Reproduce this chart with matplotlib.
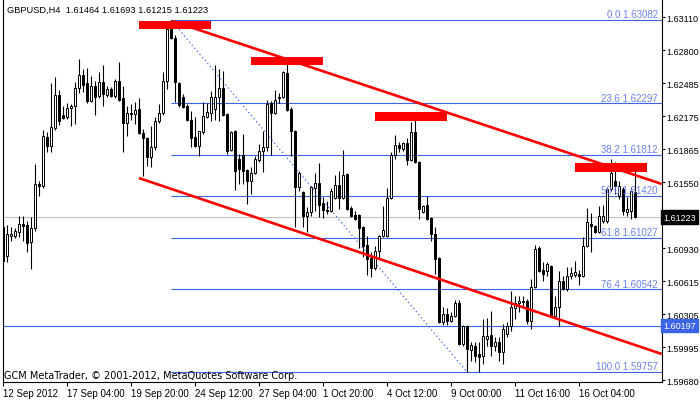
import matplotlib
matplotlib.use("Agg")
from matplotlib import pyplot as plt
from matplotlib.patches import Rectangle
import numpy as np

plt.rcParams["font.family"] = ["Liberation Sans", "DejaVu Sans"]

# GBPUSD H4 bars, 12 Sep - 17 Oct 2012
opens = [1.61129, 1.60855, 1.61044, 1.61044, 1.61082, 1.61158, 1.61148, 1.60988, 1.61120, 1.61536,
         1.61517, 1.61980, 1.61894, 1.62065, 1.62376, 1.62187, 1.62168, 1.62253, 1.62272, 1.62442,
         1.62565, 1.62490, 1.62320, 1.62461, 1.62367, 1.62499, 1.62376, 1.62433, 1.62367, 1.62508,
         1.62348, 1.62112, 1.62197, 1.62197, 1.62244, 1.62017, 1.61970, 1.61791, 1.61885, 1.62131,
         1.62206, 1.62508, 1.63000, 1.62915, 1.62490, 1.62357, 1.62272, 1.62140, 1.61980, 1.61894,
         1.62027, 1.62168, 1.62206, 1.62244, 1.62357, 1.62442, 1.62197, 1.61857, 1.62036, 1.61772,
         1.61809, 1.61668, 1.61564, 1.61639, 1.61762, 1.61847, 1.61885, 1.62301, 1.62206, 1.62348,
         1.62357, 1.62584, 1.62244, 1.62036, 1.61507, 1.61460, 1.61233, 1.61271, 1.61498, 1.61545,
         1.61356, 1.61290, 1.61280, 1.61403, 1.61526, 1.61403, 1.61630, 1.61309, 1.61243, 1.61243,
         1.61129, 1.60959, 1.60837, 1.60742, 1.60903, 1.61044, 1.61044, 1.61403, 1.61809, 1.61904,
         1.61866, 1.61923, 1.61762, 1.62027, 1.61743, 1.61271, 1.61337, 1.61214, 1.61063, 1.60837,
         1.60232, 1.60308, 1.60241, 1.60289, 1.60411, 1.60024, 1.60194, 1.59968, 1.60005, 1.59930,
         1.59911, 1.60071, 1.60109, 1.60005, 1.60043, 1.59949, 1.60119, 1.60194, 1.60364, 1.60411,
         1.60421, 1.60430, 1.60241, 1.60563, 1.60931, 1.60723, 1.60714, 1.60761, 1.60289, 1.60374,
         1.60619, 1.60544, 1.60667, 1.60676, 1.60685, 1.60667, 1.60950, 1.61158, 1.61139, 1.61082,
         1.61186, 1.61186, 1.61488, 1.61564, 1.61422, 1.61488, 1.61271, 1.61280, 1.61464]
highs = [1.61205, 1.61148, 1.61129, 1.61120, 1.61233, 1.61233, 1.61186, 1.61224, 1.61724, 1.61564,
         1.62046, 1.62027, 1.62490, 1.62546, 1.62423, 1.62272, 1.62301, 1.62291, 1.62499, 1.62716,
         1.62622, 1.62631, 1.62556, 1.62508, 1.62593, 1.62660, 1.62461, 1.62452, 1.62527, 1.62688,
         1.62461, 1.62272, 1.62291, 1.62310, 1.62348, 1.62055, 1.61980, 1.62083, 1.62168, 1.62291,
         1.62593, 1.63028, 1.63082, 1.62943, 1.62499, 1.62386, 1.62291, 1.62225, 1.62168, 1.62036,
         1.62310, 1.62301, 1.62414, 1.62660, 1.62622, 1.62603, 1.62206, 1.62036, 1.62046, 1.61819,
         1.62008, 1.61677, 1.61696, 1.61800, 1.61913, 1.62036, 1.62329, 1.62320, 1.62423, 1.62395,
         1.62603, 1.62697, 1.62263, 1.62046, 1.61658, 1.61469, 1.61318, 1.61517, 1.61639, 1.61734,
         1.61413, 1.61375, 1.61498, 1.61621, 1.61658, 1.61857, 1.61639, 1.61328, 1.61280, 1.61252,
         1.61139, 1.61044, 1.60893, 1.60950, 1.61054, 1.61328, 1.61498, 1.61838, 1.61998, 1.61932,
         1.61932, 1.61970, 1.62121, 1.62159, 1.61753, 1.61337, 1.61422, 1.61224, 1.61129, 1.60846,
         1.60374, 1.60364, 1.60326, 1.60440, 1.60440, 1.60204, 1.60204, 1.60043, 1.60043, 1.60043,
         1.60260, 1.60270, 1.60336, 1.60090, 1.60090, 1.60213, 1.60232, 1.60525, 1.60478, 1.60478,
         1.60478, 1.60449, 1.60638, 1.60959, 1.60950, 1.60799, 1.60799, 1.60770, 1.60478, 1.60714,
         1.60667, 1.60752, 1.60752, 1.60808, 1.60723, 1.61035, 1.61309, 1.61262, 1.61148, 1.61328,
         1.61337, 1.61507, 1.61772, 1.61743, 1.61564, 1.61507, 1.61413, 1.61507, 1.61693]
lows = [1.60799, 1.60799, 1.60997, 1.61025, 1.61035, 1.60997, 1.60893, 1.60733, 1.61092, 1.61422,
        1.61498, 1.61838, 1.61838, 1.62046, 1.62093, 1.62150, 1.62150, 1.62083, 1.62102, 1.62395,
        1.62405, 1.62301, 1.62310, 1.62187, 1.62348, 1.62272, 1.62357, 1.62357, 1.62348, 1.62320,
        1.61838, 1.61989, 1.62140, 1.62102, 1.62008, 1.61611, 1.61706, 1.61696, 1.61857, 1.62112,
        1.62187, 1.62433, 1.62905, 1.62310, 1.62263, 1.62253, 1.62131, 1.61885, 1.61885, 1.61800,
        1.62008, 1.62159, 1.62131, 1.62140, 1.62131, 1.62178, 1.61819, 1.61847, 1.61479, 1.61536,
        1.61536, 1.61347, 1.61441, 1.61630, 1.61743, 1.61649, 1.61847, 1.61809, 1.62197, 1.62301,
        1.62348, 1.62225, 1.61800, 1.61129, 1.61469, 1.61129, 1.61082, 1.61233, 1.61280, 1.61224,
        1.61214, 1.61252, 1.61271, 1.61394, 1.61299, 1.61394, 1.61290, 1.61224, 1.61195, 1.60931,
        1.60846, 1.60676, 1.60657, 1.60723, 1.60827, 1.61035, 1.61035, 1.61394, 1.61772, 1.61838,
        1.61847, 1.61715, 1.61753, 1.61734, 1.61205, 1.61262, 1.61195, 1.60997, 1.60685, 1.60223,
        1.60204, 1.60204, 1.60232, 1.60279, 1.60015, 1.60005, 1.59757, 1.59864, 1.59854, 1.59760,
        1.59835, 1.60005, 1.59911, 1.59958, 1.59864, 1.59835, 1.60090, 1.60147, 1.60260, 1.60326,
        1.60374, 1.60213, 1.60166, 1.60553, 1.60704, 1.60619, 1.60667, 1.60279, 1.60279, 1.60194,
        1.60534, 1.60525, 1.60638, 1.60657, 1.60581, 1.60657, 1.60940, 1.60893, 1.61073, 1.61073,
        1.61167, 1.61167, 1.61469, 1.61441, 1.61394, 1.61243, 1.61233, 1.61205, 1.61215]
closes = [1.60808, 1.61063, 1.61063, 1.61092, 1.61158, 1.61139, 1.60978, 1.61120, 1.61536, 1.61517,
          1.61989, 1.61894, 1.62074, 1.62376, 1.62131, 1.62159, 1.62253, 1.62272, 1.62442, 1.62565,
          1.62471, 1.62320, 1.62461, 1.62357, 1.62499, 1.62386, 1.62433, 1.62367, 1.62508, 1.62329,
          1.62112, 1.62206, 1.62206, 1.62235, 1.62017, 1.61970, 1.61791, 1.61885, 1.62131, 1.62206,
          1.62508, 1.63000, 1.62915, 1.62499, 1.62282, 1.62263, 1.62140, 1.61970, 1.61894, 1.62036,
          1.62178, 1.62216, 1.62357, 1.62357, 1.62442, 1.62187, 1.61847, 1.62027, 1.61658, 1.61677,
          1.61658, 1.61564, 1.61639, 1.61772, 1.61847, 1.61885, 1.62291, 1.62206, 1.62329, 1.62357,
          1.62593, 1.62235, 1.62036, 1.61507, 1.61639, 1.61233, 1.61271, 1.61507, 1.61545, 1.61337,
          1.61290, 1.61280, 1.61469, 1.61526, 1.61403, 1.61621, 1.61299, 1.61233, 1.61205, 1.61120,
          1.60950, 1.60827, 1.60742, 1.60903, 1.61044, 1.61101, 1.61403, 1.61809, 1.61904, 1.61876,
          1.61923, 1.61762, 1.62027, 1.61743, 1.61299, 1.61328, 1.61205, 1.61063, 1.60827, 1.60232,
          1.60308, 1.60241, 1.60289, 1.60411, 1.60024, 1.60194, 1.59977, 1.60015, 1.59911, 1.59901,
          1.60100, 1.60100, 1.60005, 1.60043, 1.59949, 1.60166, 1.60194, 1.60374, 1.60411, 1.60430,
          1.60430, 1.60241, 1.60563, 1.60922, 1.60714, 1.60685, 1.60780, 1.60289, 1.60374, 1.60619,
          1.60544, 1.60667, 1.60695, 1.60704, 1.60667, 1.60950, 1.61177, 1.61139, 1.61082, 1.61233,
          1.61233, 1.61488, 1.61639, 1.61517, 1.61517, 1.61280, 1.61299, 1.61469, 1.61223]

# fibonacci retracement (bar 42 high -> bar 116 low)
fib_names = ["0.0", "23.6", "38.2", "50.0", "61.8", "76,4", "100.0"]
fib_levels = [1.63082, 1.62297, 1.61812, 1.61420, 1.61027, 1.60542, 1.59757]
fib_start, fib_end = 42, 116

# red trend channel (bar, price)
upper_line = [(42.2, 1.63075), (164.6, 1.61536)]
lower_line = [(33.9, 1.61592), (164.6, 1.59930)]

# red rectangles: bar from, bar to, price low, price high
boxes = [(33.9, 51.9, 1.63000, 1.63075),
         (61.9, 79.9, 1.62660, 1.62735),
         (92.9, 110.9, 1.62131, 1.62216),
         (142.9, 160.9, 1.61649, 1.61734)]

hline_price = 1.60197
bid = 1.61223

price_ticks = [1.63110, 1.62800, 1.62485, 1.62175, 1.61865, 1.61550,
               1.60930, 1.60615, 1.60305, 1.59995, 1.59680]
date_ticks = [0, 16, 32, 48, 64, 80, 96, 112, 128, 144]
date_labels = ["12 Sep 2012", "17 Sep 04:00", "19 Sep 20:00", "24 Sep 12:00", "27 Sep 04:00",
               "1 Oct 20:00", "4 Oct 12:00", "9 Oct 00:00", "11 Oct 16:00", "16 Oct 04:00"]

W, H = 700, 402
fig = plt.figure(figsize=(W / 100, H / 100), dpi=100)
ax = fig.add_axes([2.5 / W, (H - 382.5) / H, (661.7 - 2.5) / W, 382.5 / H])
ax.set_xlim(-0.2, 164.6)
ax.set_ylim(1.59670, 1.63283)

blue = "#3c64e6"
label_blue = "#6a82f2"

x = np.arange(len(opens))
o = np.array(opens)
c = np.array(closes)

ax.axhline(bid, color="#c0c0c0", lw=0.8, zorder=1)
ax.axhline(hline_price, color=blue, lw=0.8, zorder=1)
ax.hlines(fib_levels, fib_start, 164.6, color=blue, lw=0.8, zorder=1)
ax.plot([fib_start, fib_end], [fib_levels[0], fib_levels[-1]], color=blue, lw=0.9,
        ls=(0, (1, 2.2)), zorder=1)
for name, lev in zip(fib_names, fib_levels):
    ax.text(163.6, lev + 0.00008, f"{name} {lev:.5f}", ha="right", va="bottom",
            color=label_blue, fontsize=7, zorder=6)

ax.vlines(x, lows, highs, color="black", lw=0.8, zorder=3)
body_low = np.minimum(o, c)
body_h = np.maximum(np.abs(c - o), 0.00003)
colors = ["white" if cc >= oo else "black" for oo, cc in zip(o, c)]
ax.bar(x, body_h, bottom=body_low, width=0.5, color=colors, edgecolor="black",
       linewidth=0.7, zorder=4)

for (x0, y0), (x1, y1) in [upper_line, lower_line]:
    ax.plot([x0, x1], [y0, y1], color="#ff0000", lw=1.9, zorder=5, solid_capstyle="butt")
for b0, b1, p0, p1 in boxes:
    ax.add_patch(Rectangle((b0, p0), b1 - b0, p1 - p0, color="#ff0000", lw=0, zorder=5))

ax.yaxis.tick_right()
ax.set_yticks(price_ticks)
ax.set_yticklabels([f"{p:.5f}" for p in price_ticks])
ax.set_xticks(date_ticks)
ax.set_xticklabels(date_labels, ha="left")
ax.tick_params(axis="y", direction="out", length=2.2, width=0.8, labelsize=6.5, pad=0.8)
ax.tick_params(axis="x", direction="out", length=3, width=0.8, labelsize=7, pad=2)
for s in ["left", "right", "bottom"]:
    ax.spines[s].set_linewidth(0.8)
ax.spines["top"].set_visible(False)

ax.annotate(f"{bid:.5f}", xy=(1, bid), xycoords=("axes fraction", "data"), xytext=(1.2, 0),
            textcoords="offset points", ha="left", va="center", color="white", fontsize=6.5,
            bbox=dict(boxstyle="square,pad=0.25", fc="black", ec="black"), annotation_clip=False)
ax.annotate(f"{hline_price:.5f}", xy=(1, hline_price), xycoords=("axes fraction", "data"),
            xytext=(1.2, 0), textcoords="offset points", ha="left", va="center", color="white",
            fontsize=6.5, bbox=dict(boxstyle="square,pad=0.25", fc=blue, ec=blue),
            annotation_clip=False)

fig.text(7 / W, 1 - 10 / H, "GBPUSD,H4  1.61464 1.61693 1.61215 1.61223", fontsize=6.7,
         va="center", ha="left")
fig.text(4.5 / W, 1 - 376 / H, "GCM MetaTrader, \u00a9 2001-2012, MetaQuotes Software Corp.",
         fontsize=7, va="center", ha="left", family="DejaVu Sans")

fig.savefig("out.png", dpi=100, facecolor="white")
